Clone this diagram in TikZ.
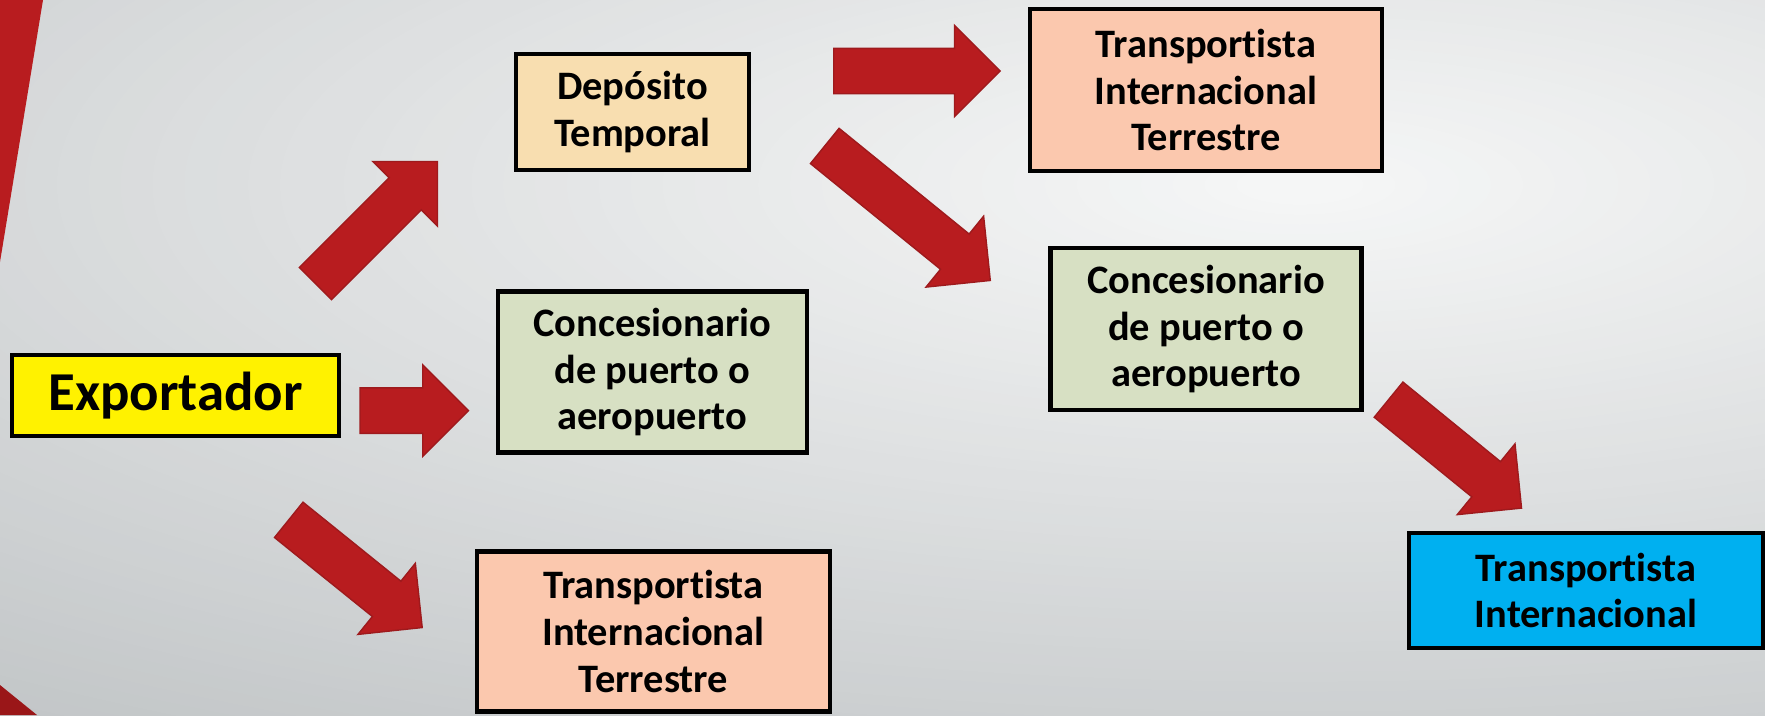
\documentclass[tikz,border=0pt]{standalone}
\usepackage{fontspec}
\setmainfont{Carlito}[Ligatures={NoCommon}]
\usetikzlibrary{shapes.arrows}
\definecolor{rojo}{HTML}{B81C1F}
\definecolor{rojorand}{HTML}{9E1A1D}
\definecolor{rojodunkel}{HTML}{9A1618}
\definecolor{bghell}{HTML}{F6F7F7}
\definecolor{bgdunkel}{HTML}{B9BDBF}
\definecolor{depofarbe}{HTML}{F8DEB0}
\definecolor{concfarbe}{HTML}{D7E0C3}
\definecolor{transfarbe}{HTML}{FBC8AE}
\definecolor{intlfarbe}{HTML}{00B0F0}
\begin{document}
\begin{tikzpicture}[
  kasten/.style={draw=black, line width=1.2pt, align=center, inner sep=0pt,
    font=\fontsize{11.5}{13.3}\selectfont\bfseries},
  pfeil/.style={single arrow, draw=rojorand, fill=rojo, line width=0.4pt,
    inner sep=0pt, inner ysep=0.22cm, single arrow head extend=0.23cm,
    single arrow tip angle=90, anchor=tail}
]
\useasboundingbox (0,0) rectangle (17.65,7.15);
% Hintergrund
\begin{scope}
\clip (0,0) rectangle (17.65,7.15);
\fill[bgdunkel] (0,0) rectangle (17.65,7.15);
\foreach \i in {80,79,...,1} {
  \pgfmathsetmacro\p{1.25*\i}
  \fill[bgdunkel!\p!bghell] (13,5.3) ellipse ({25.5*\i/80} and {7.95*\i/80});
}
\end{scope}
\fill[rojo] (0,7.15) -- (0.43,7.15) -- (0,4.53) -- cycle;
\fill[rojodunkel] (0,0.30) -- (0.37,0) -- (0,0) -- cycle;

\node[kasten, fill=yellow, minimum width=3.27cm, minimum height=0.81cm,
  font=\fontsize{15.6}{18}\selectfont\bfseries] (expo) at (1.755,3.195) {Exportador};
\node[kasten, fill=depofarbe, minimum width=2.33cm, minimum height=1.16cm] (depo) at (6.325,6.03) {Depósito\\Temporal};
\node[kasten, fill=concfarbe, minimum width=3.09cm, minimum height=1.61cm] (conc1) at (6.523,3.43) {Concesionario\\de puerto o\\aeropuerto};
\node[kasten, fill=transfarbe, minimum width=3.53cm, minimum height=1.60cm] (trans1) at (6.533,0.835) {Transportista\\Internacional\\Terrestre};
\node[kasten, fill=transfarbe, minimum width=3.52cm, minimum height=1.62cm] (trans2) at (12.06,6.25) {Transportista\\Internacional\\Terrestre};
\node[kasten, fill=concfarbe, minimum width=3.11cm, minimum height=1.615cm] (conc2) at (12.06,3.86) {Concesionario\\de puerto o\\aeropuerto};
\node[kasten, fill=intlfarbe, minimum width=3.54cm, minimum height=1.15cm] (intl) at (15.86,1.245) {Transportista\\Internacional};

% Pfeile einfügen
\node[pfeil, rotate=45, minimum height=1.725cm] (p1) at (3.15,4.31) {};
\node[pfeil, minimum height=1.084cm] (p2) at (3.593,3.044) {};
\node[pfeil, rotate=-38.9, minimum height=1.715cm] (p3) at (2.882,1.956) {};
\node[pfeil, minimum height=1.665cm] (p4) at (8.33,6.44) {};
\node[pfeil, rotate=-39.1, minimum height=2.133cm] (p5) at (8.242,5.695) {};
\node[pfeil, rotate=-39.2, minimum height=1.716cm] (p6) at (13.88,3.158) {};
\end{tikzpicture}
\end{document}
